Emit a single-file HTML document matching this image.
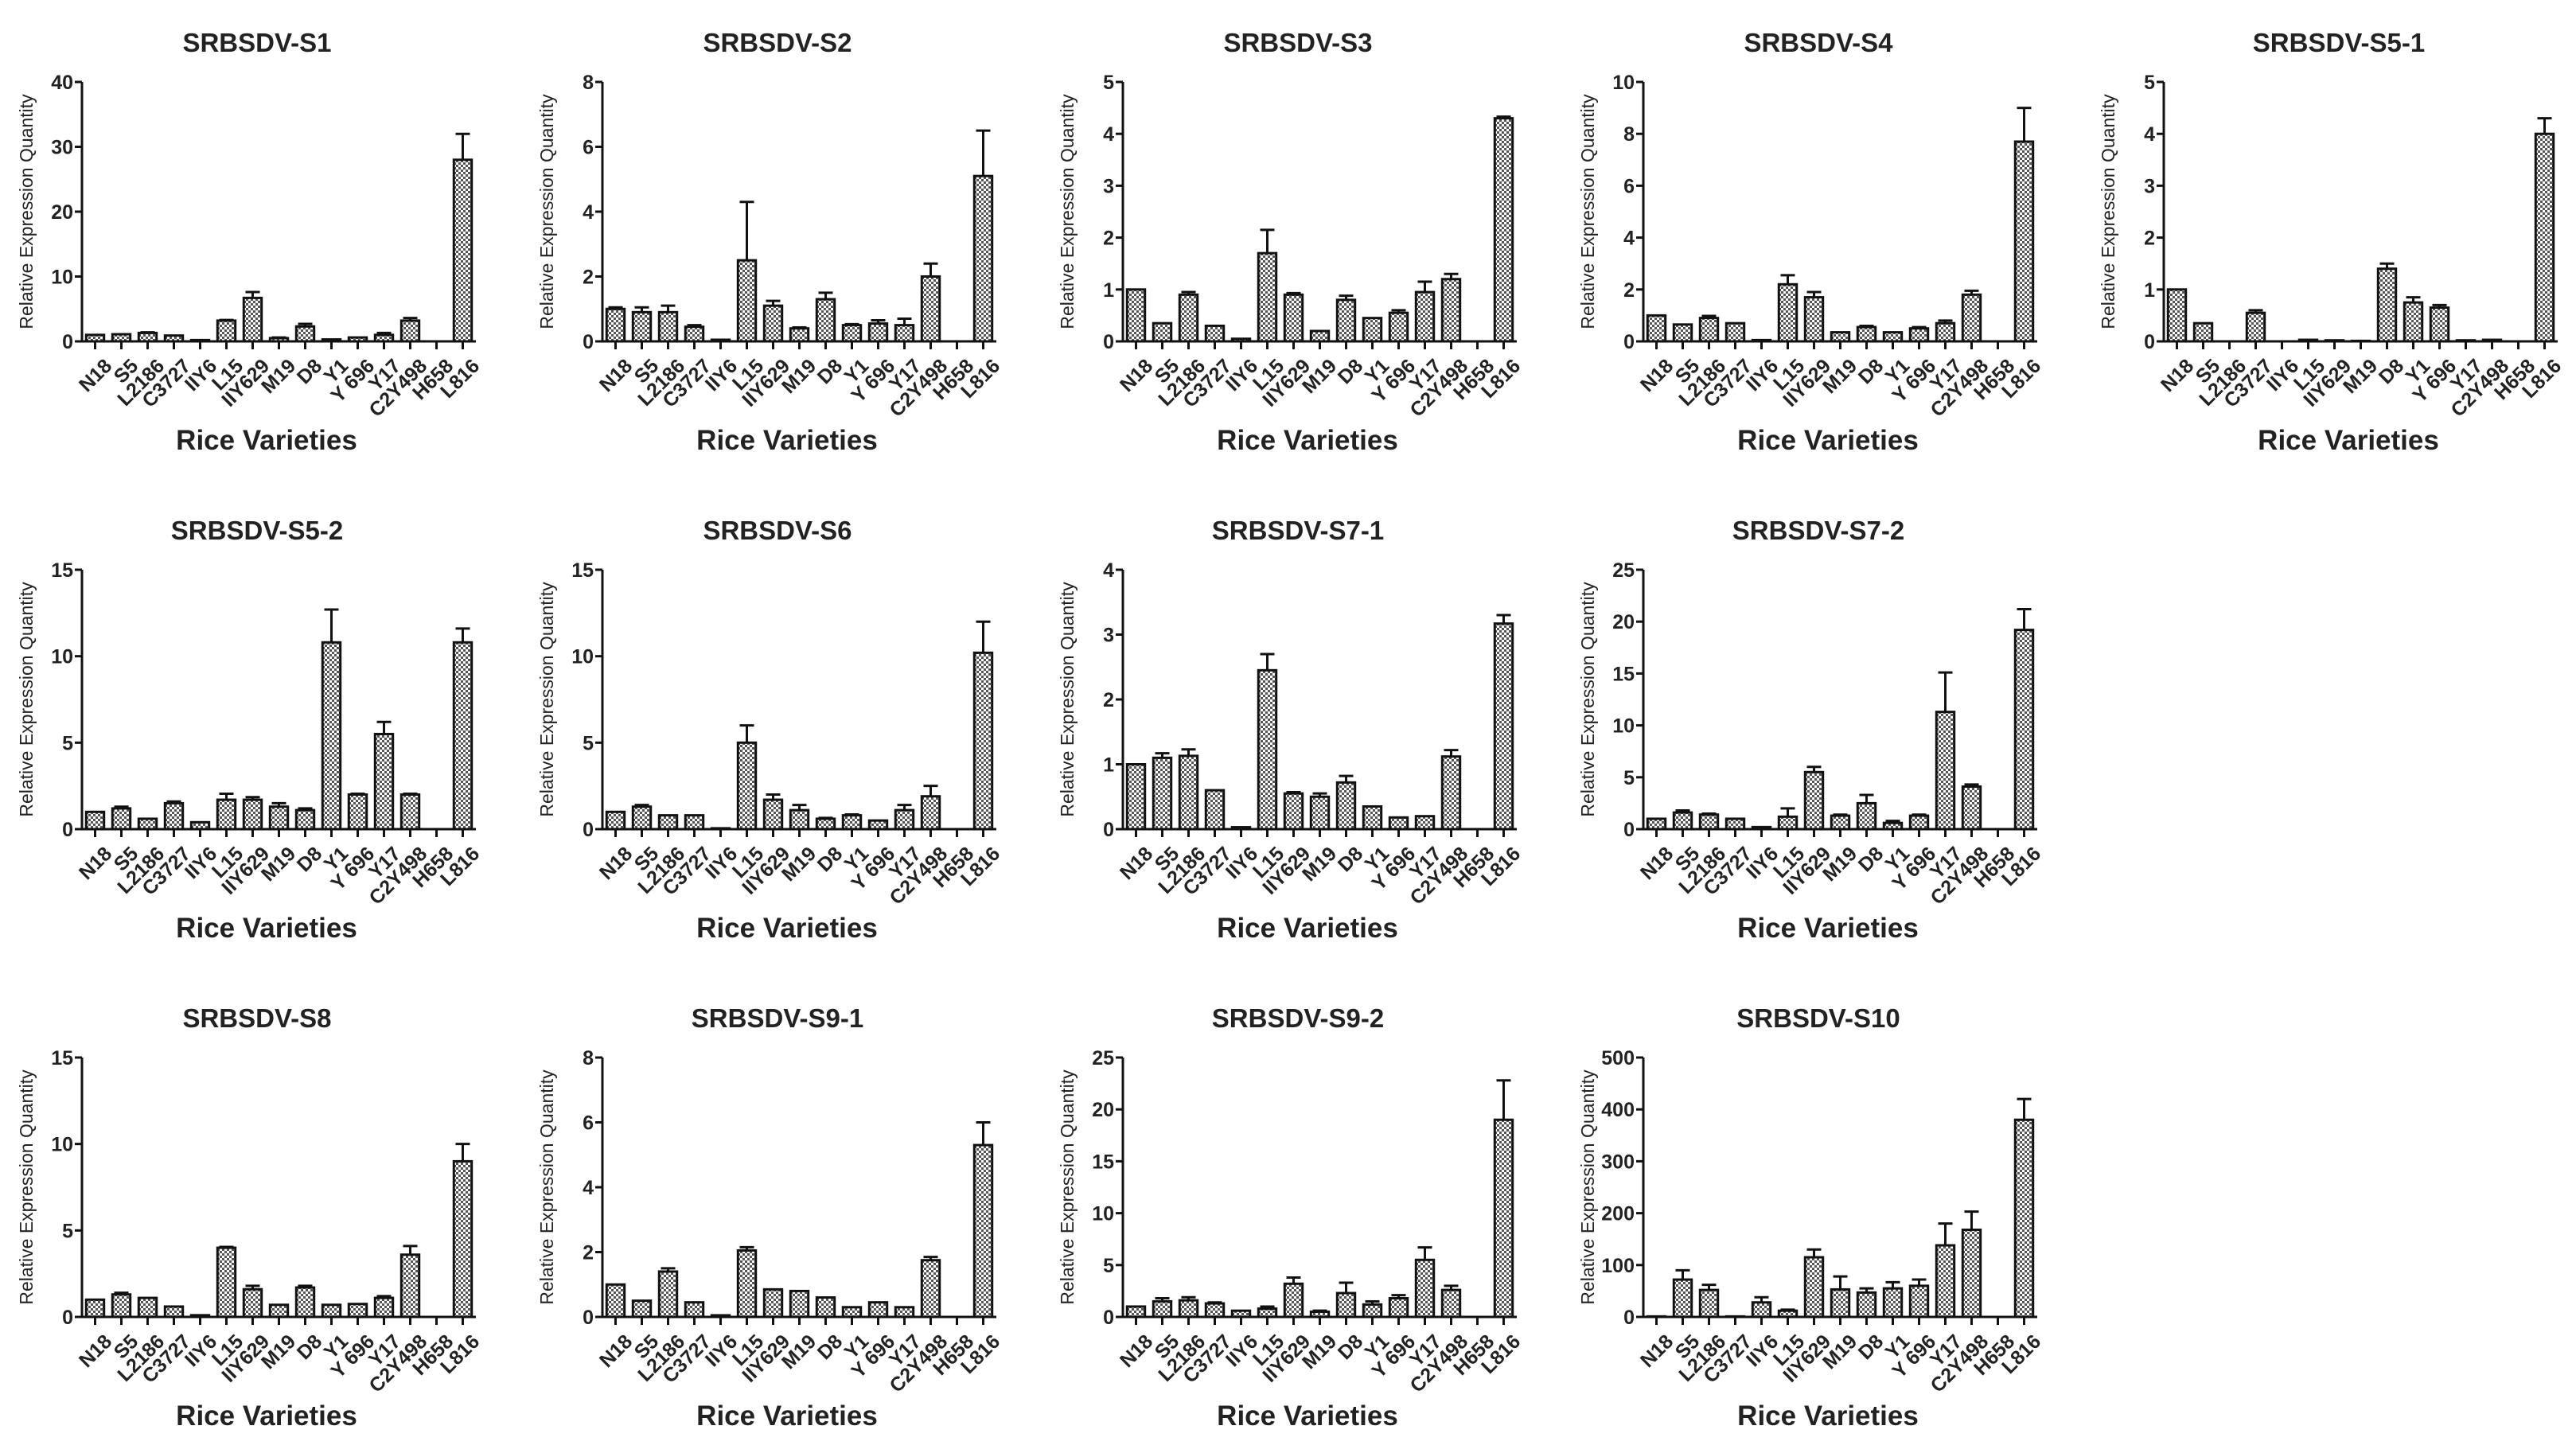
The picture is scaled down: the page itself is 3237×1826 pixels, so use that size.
<!DOCTYPE html>
<html><head><meta charset="utf-8"><style>
html,body{margin:0;padding:0;background:#fff;}
svg{display:block;font-family:"Liberation Sans",Arial,sans-serif;}
</style></head><body>
<svg id="fig" width="3237" height="1826" viewBox="0 0 3237 1826">
<defs>
<pattern id="check" width="6" height="6" patternUnits="userSpaceOnUse">
<rect width="6" height="6" fill="#fff"/><rect width="3" height="3" fill="#555"/><rect x="3" y="3" width="3" height="3" fill="#555"/>
</pattern>
</defs>
</svg>
<script>
const categories = ["N18","S5","L2186","C3727","IIY6","L15","IIY629","M19","D8","Y1","Y 696","Y17","C2Y498","H658","L816"];
const titles = ["SRBSDV-S1","SRBSDV-S2","SRBSDV-S3","SRBSDV-S4","SRBSDV-S5-1","SRBSDV-S5-2","SRBSDV-S6","SRBSDV-S7-1","SRBSDV-S7-2","SRBSDV-S8","SRBSDV-S9-1","SRBSDV-S9-2","SRBSDV-S10"];
const s1Values = [1,1.1,1.3,0.9,0.2,3.2,6.7,0.5,2.3,0.3,0.6,1.0,3.2,0,28];
const s1Errors = [0,0,0.1,0,0,0.1,0.9,0.1,0.4,0,0,0.3,0.4,0,4];
const s1Ticks = [0,10,20,30,40];
const s2Values = [1.0,0.9,0.9,0.45,0.05,2.5,1.1,0.4,1.3,0.5,0.55,0.5,2.0,0,5.1];
const s2Errors = [0.05,0.15,0.2,0.05,0,1.8,0.15,0.03,0.2,0.03,0.1,0.2,0.4,0,1.4];
const s2Ticks = [0,2,4,6,8];
const s3Values = [1.0,0.35,0.9,0.3,0.05,1.7,0.9,0.2,0.8,0.45,0.55,0.95,1.2,0,4.3];
const s3Errors = [0,0,0.05,0,0,0.45,0.03,0,0.08,0,0.05,0.2,0.1,0,0.03];
const s3Ticks = [0,1,2,3,4,5];
const s4Values = [1.0,0.65,0.9,0.7,0.05,2.2,1.7,0.35,0.55,0.35,0.5,0.7,1.8,0,7.7];
const s4Errors = [0,0,0.08,0,0,0.35,0.2,0,0.05,0,0.05,0.1,0.15,0,1.3];
const s4Ticks = [0,2,4,6,8,10];
const s51Values = [1.0,0.35,0.0,0.55,0,0.03,0.02,0.01,1.4,0.75,0.65,0.02,0.03,0,4.0];
const s51Errors = [0,0,0,0.05,0,0,0,0,0.1,0.1,0.05,0,0,0,0.3];
const s51Ticks = [0,1,2,3,4,5];
const s52Values = [1.0,1.2,0.6,1.5,0.4,1.7,1.7,1.3,1.1,10.8,2.0,5.5,2.0,0,10.8];
const s52Errors = [0,0.1,0,0.1,0,0.35,0.15,0.2,0.1,1.9,0.05,0.7,0.05,0,0.8];
const s52Ticks = [0,5,10,15];
const s6Values = [1.0,1.3,0.8,0.8,0.05,5.0,1.7,1.1,0.6,0.8,0.5,1.1,1.9,0,10.2];
const s6Errors = [0,0.1,0,0,0,1.0,0.3,0.3,0.05,0.05,0,0.3,0.6,0,1.8];
const s6Ticks = [0,5,10,15];
const s71Values = [1.0,1.1,1.13,0.6,0.03,2.45,0.55,0.5,0.72,0.35,0.18,0.2,1.12,0,3.17];
const s71Errors = [0,0.07,0.1,0,0,0.25,0.02,0.05,0.1,0,0,0,0.1,0,0.13];
const s71Ticks = [0,1,2,3,4];
const s72Values = [1.0,1.6,1.4,1.0,0.2,1.2,5.5,1.3,2.5,0.6,1.3,11.3,4.1,0,19.2];
const s72Errors = [0,0.2,0.1,0,0,0.8,0.5,0.1,0.8,0.2,0.1,3.8,0.2,0,2.0];
const s72Ticks = [0,5,10,15,20,25];
const s8Values = [1.0,1.3,1.1,0.6,0.1,4.0,1.6,0.7,1.7,0.7,0.75,1.1,3.6,0,9.0];
const s8Errors = [0,0.1,0,0,0,0.05,0.2,0,0.1,0,0,0.1,0.5,0,1.0];
const s8Ticks = [0,5,10,15];
const s91Values = [1.0,0.5,1.4,0.45,0.05,2.05,0.85,0.8,0.6,0.3,0.45,0.3,1.75,0,5.3];
const s91Errors = [0,0,0.1,0,0,0.1,0,0,0,0,0,0,0.1,0,0.7];
const s91Ticks = [0,2,4,6,8];
const s92Values = [1.0,1.5,1.6,1.3,0.6,0.8,3.2,0.5,2.3,1.2,1.8,5.5,2.6,0,19];
const s92Errors = [0,0.3,0.3,0.1,0,0.2,0.6,0.1,1.0,0.3,0.3,1.2,0.4,0,3.8];
const s92Ticks = [0,5,10,15,20,25];
const s10Values = [1,72,52,1,28,12,115,53,47,55,60,138,168,0,380];
const s10Errors = [0,18,10,0,10,2,15,25,8,12,12,42,35,0,40];
const s10Ticks = [0,100,200,300,400,500];

const panels = [
 [s1Values,s1Errors,s1Ticks],[s2Values,s2Errors,s2Ticks],[s3Values,s3Errors,s3Ticks],[s4Values,s4Errors,s4Ticks],[s51Values,s51Errors,s51Ticks],
 [s52Values,s52Errors,s52Ticks],[s6Values,s6Errors,s6Ticks],[s71Values,s71Errors,s71Ticks],[s72Values,s72Errors,s72Ticks],
 [s8Values,s8Errors,s8Ticks],[s91Values,s91Errors,s91Ticks],[s92Values,s92Errors,s92Ticks],[s10Values,s10Errors,s10Ticks]
];
const layout = [[0,0],[0,1],[0,2],[0,3],[0,4],[1,0],[1,1],[1,2],[1,3],[2,0],[2,1],[2,2],[2,3]];
const NS = "http://www.w3.org/2000/svg";
const svg = document.getElementById('fig');
function mk(tag, attrs, parent){const e=document.createElementNS(NS,tag);for(const k in attrs)e.setAttribute(k,attrs[k]);parent.appendChild(e);return e;}

panels.forEach((p,i)=>{
  const [vals,errs,ticks]=p;
  const r=layout[i][0], c=layout[i][1];
  const x0=103+654*c, yTop=103+613*r, yBase=429+613*r, W=495, H=yBase-yTop;
  const maxV=ticks[ticks.length-1];
  const yS=v=>yBase-v/maxV*H;
  const band=W/categories.length;
  const xS=k=>x0+band*(k+0.5);
  const g=mk('g',{},svg);
  
  
  const t=mk('text',{x:x0+220,y:yTop-38,'text-anchor':'middle','font-size':33,'font-weight':'bold',fill:'#222'},g);
  t.textContent=titles[i];
  
  
  vals.forEach((v,k)=>{
    const bw=band*0.68, bx=xS(k)-bw/2, by=yS(v);
    if(errs[k]>0){
      const ey=yS(v+errs[k]);
      const el=mk('path',{d:`M${xS(k)},${by} V${ey} M${xS(k)-9},${ey} H${xS(k)+9}`,stroke:'#111','stroke-width':3,fill:'none'},g);
      
      
    }
    const b=mk('rect',{x:bx,y:by,width:bw,height:Math.max(yBase-by,0),fill:'url(#check)',stroke:'#111','stroke-width':3},g);
    
    
    const tk=mk('line',{x1:xS(k),x2:xS(k),y1:yBase,y2:yBase+10,stroke:'#111','stroke-width':3},g);
    
    
    const lx=xS(k)+10, ly=yBase+20;
    const lab=mk('text',{x:lx,y:ly,transform:`rotate(-45 ${lx} ${ly})`,'text-anchor':'end','dominant-baseline':'hanging','font-size':25,'font-weight':'bold',fill:'#222'},g);
    lab.textContent=categories[k];
    
    
  });
  const ax=mk('path',{d:`M${x0},${yTop} V${yBase} H${x0+W}`,stroke:'#111','stroke-width':3,fill:'none'},g);
  
  
  ticks.forEach(tv=>{
    const y=yS(tv);
    const tl=mk('line',{x1:x0-9,x2:x0,y1:y,y2:y,stroke:'#111','stroke-width':3},g);
    
    
    const tt=mk('text',{x:x0-11,y:y+9,'text-anchor':'end','font-size':25,'font-weight':'bold',fill:'#222'},g);
    tt.textContent=tv;
    
    
  });
  const yl=mk('text',{x:x0-62,y:(yTop+yBase)/2,transform:`rotate(-90 ${x0-62} ${(yTop+yBase)/2})`,'text-anchor':'middle','font-size':23,fill:'#222'},g);
  yl.textContent='Relative Expression Quantity';
  
  
  const xl=mk('text',{x:x0+232,y:yBase+136,'text-anchor':'middle','font-size':35,'font-weight':'bold',fill:'#222'},g);
  xl.textContent='Rice Varieties';
  
  
});
</script>
</body></html>
